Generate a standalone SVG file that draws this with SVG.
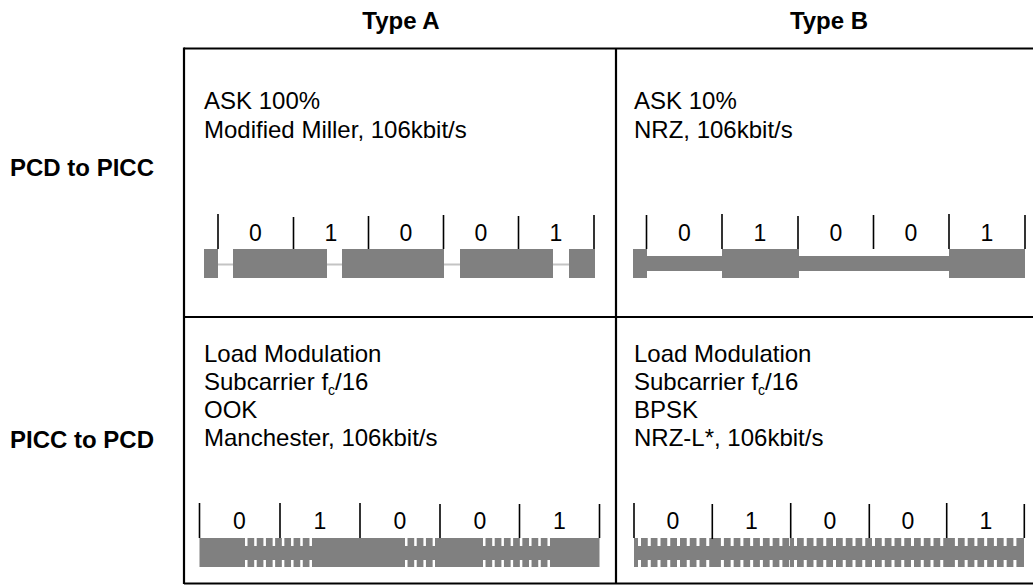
<svg xmlns="http://www.w3.org/2000/svg" width="1033" height="585" viewBox="0 0 1033 585">
  <style>
    text { font-family: "Liberation Sans", Arial, sans-serif; fill: #000; }
    .hdr { font-size: 24px; font-weight: bold; }
    .txt { font-size: 24px; }
    .sub { font-size: 14px; }
    .bit { font-size: 23px; text-anchor: middle; }
    .grid { stroke: #000; stroke-width: 2.2; fill: none; }
    .tick { stroke: #000; stroke-width: 1.6; }
    .wave { fill: #808080; }
    .idle { stroke: #c4c4c4; stroke-width: 2; }
    .notch { stroke: #fff; fill: none; }
    .subA { stroke-dasharray: 2.5 6.71; }
    .subB { stroke-dasharray: 3 6.75; }
  </style>

  <!-- column and row headings -->
  <g id="headings">
    <text class="hdr" x="401" y="29" text-anchor="middle">Type A</text>
    <text class="hdr" x="829" y="29" text-anchor="middle">Type B</text>
    <text class="hdr" x="10" y="176">PCD to PICC</text>
    <text class="hdr" x="10" y="448">PICC to PCD</text>
  </g>

  <!-- table rules -->
  <g id="table" class="grid">
    <line x1="184" y1="48.5" x2="1033" y2="48.5"/>
    <line x1="184" y1="47.5" x2="184" y2="584"/>
    <line x1="616" y1="48.5" x2="616" y2="584"/>
    <line x1="184" y1="317" x2="1033" y2="317"/>
    <line x1="184" y1="583.5" x2="1033" y2="583.5"/>
  </g>

  <!-- Type A, PCD to PICC: ASK 100 %, Modified Miller -->
  <g id="cell-a-down">
    <text class="txt" x="204" y="109">ASK 100%</text>
    <text class="txt" x="204" y="138">Modified Miller, 106kbit/s</text>
    <line class="idle" x1="204" y1="264.5" x2="595" y2="264.5"/>
    <rect class="wave" x="204" y="249" width="14" height="29"/>
    <rect class="wave" x="233" y="249" width="94" height="29"/>
    <rect class="wave" x="342" y="249" width="102" height="29"/>
    <rect class="wave" x="460" y="249" width="93" height="29"/>
    <rect class="wave" x="569" y="249" width="26" height="29"/>
    <g class="tick">
      <line x1="218" y1="214" x2="218" y2="249"/>
      <line x1="293.5" y1="217" x2="293.5" y2="249"/>
      <line x1="368.5" y1="216" x2="368.5" y2="249"/>
      <line x1="443.5" y1="215" x2="443.5" y2="249"/>
      <line x1="518.5" y1="216" x2="518.5" y2="249"/>
      <line x1="594" y1="215" x2="594" y2="249"/>
    </g>
    <text class="bit" x="255.5" y="241">0</text>
    <text class="bit" x="331" y="241">1</text>
    <text class="bit" x="406" y="241">0</text>
    <text class="bit" x="481" y="241">0</text>
    <text class="bit" x="556" y="241">1</text>
  </g>

  <!-- Type B, PCD to PICC: ASK 10 %, NRZ -->
  <g id="cell-b-down">
    <text class="txt" x="634" y="109">ASK 10%</text>
    <text class="txt" x="634" y="138">NRZ, 106kbit/s</text>
    <rect class="wave" x="633" y="256" width="392" height="15"/>
    <rect class="wave" x="633" y="249" width="14" height="29"/>
    <rect class="wave" x="722" y="249" width="77" height="29"/>
    <rect class="wave" x="949" y="249" width="76" height="29"/>
    <g class="tick">
      <line x1="646.5" y1="215" x2="646.5" y2="249"/>
      <line x1="722" y1="214" x2="722" y2="249"/>
      <line x1="798" y1="216" x2="798" y2="249"/>
      <line x1="873.5" y1="215" x2="873.5" y2="249"/>
      <line x1="949" y1="214" x2="949" y2="249"/>
      <line x1="1025" y1="215" x2="1025" y2="249"/>
    </g>
    <text class="bit" x="684.5" y="241">0</text>
    <text class="bit" x="760" y="241">1</text>
    <text class="bit" x="836" y="241">0</text>
    <text class="bit" x="911" y="241">0</text>
    <text class="bit" x="987" y="241">1</text>
  </g>

  <!-- Type A, PICC to PCD: load modulation, OOK subcarrier, Manchester -->
  <g id="cell-a-up">
    <text class="txt" x="204" y="362">Load Modulation</text>
    <text class="txt" x="204" y="390">Subcarrier f<tspan class="sub" dy="5">c</tspan><tspan dy="-5">/16</tspan></text>
    <text class="txt" x="204" y="418">OOK</text>
    <text class="txt" x="204" y="446">Manchester, 106kbit/s</text>
    <rect class="wave" x="199.5" y="538" width="400" height="29"/>
    <g class="notch subA">
      <line x1="245" y1="541.5" x2="312" y2="541.5" stroke-width="9"/>
      <line x1="245" y1="564" x2="312" y2="564" stroke-width="8"/>
      <line x1="405" y1="541.5" x2="435" y2="541.5" stroke-width="9"/>
      <line x1="405" y1="564" x2="435" y2="564" stroke-width="8"/>
      <line x1="483" y1="541.5" x2="551" y2="541.5" stroke-width="9"/>
      <line x1="483" y1="564" x2="551" y2="564" stroke-width="8"/>
    </g>
    <g class="tick">
      <line x1="199.5" y1="503" x2="199.5" y2="538"/>
      <line x1="280" y1="503" x2="280" y2="538"/>
      <line x1="360" y1="503" x2="360" y2="538"/>
      <line x1="440" y1="504" x2="440" y2="538"/>
      <line x1="519.5" y1="504" x2="519.5" y2="538"/>
      <line x1="599.5" y1="504" x2="599.5" y2="538"/>
    </g>
    <text class="bit" x="239.5" y="529">0</text>
    <text class="bit" x="320" y="529">1</text>
    <text class="bit" x="400" y="529">0</text>
    <text class="bit" x="480" y="529">0</text>
    <text class="bit" x="559.5" y="529">1</text>
  </g>

  <!-- Type B, PICC to PCD: load modulation, BPSK subcarrier, NRZ-L -->
  <g id="cell-b-up">
    <text class="txt" x="634" y="362">Load Modulation</text>
    <text class="txt" x="634" y="390">Subcarrier f<tspan class="sub" dy="5">c</tspan><tspan dy="-5">/16</tspan></text>
    <text class="txt" x="634" y="418">BPSK</text>
    <text class="txt" x="634" y="446">NRZ-L*, 106kbit/s</text>
    <rect class="wave" x="634" y="538" width="390" height="29"/>
    <g class="notch subB">
      <!-- bit 0 -->
      <line x1="638" y1="541.5" x2="712" y2="541.5" stroke-width="9"/>
      <line x1="638" y1="564" x2="712" y2="564" stroke-width="8"/>
      <!-- bit 1 (phase inverted) -->
      <line x1="720.9" y1="541.5" x2="790" y2="541.5" stroke-width="9"/>
      <line x1="720.9" y1="564" x2="790" y2="564" stroke-width="8"/>
      <!-- bit 0 -->
      <line x1="794" y1="541.5" x2="868" y2="541.5" stroke-width="9"/>
      <line x1="794" y1="564" x2="868" y2="564" stroke-width="8"/>
      <!-- bit 0 -->
      <line x1="872" y1="541.5" x2="946" y2="541.5" stroke-width="9"/>
      <line x1="872" y1="564" x2="946" y2="564" stroke-width="8"/>
      <!-- bit 1 (phase inverted) -->
      <line x1="954.9" y1="541.5" x2="1021" y2="541.5" stroke-width="9"/>
      <line x1="954.9" y1="564" x2="1021" y2="564" stroke-width="8"/>
    </g>
    <g class="tick">
      <line x1="634" y1="503" x2="634" y2="538"/>
      <line x1="712.3" y1="504" x2="712.3" y2="539"/>
      <line x1="790.7" y1="503" x2="790.7" y2="538"/>
      <line x1="869.3" y1="504" x2="869.3" y2="538"/>
      <line x1="946.7" y1="503" x2="946.7" y2="538"/>
      <line x1="1024.3" y1="504" x2="1024.3" y2="538"/>
    </g>
    <text class="bit" x="673" y="529">0</text>
    <text class="bit" x="751.5" y="529">1</text>
    <text class="bit" x="830" y="529">0</text>
    <text class="bit" x="908" y="529">0</text>
    <text class="bit" x="986" y="529">1</text>
  </g>
</svg>
